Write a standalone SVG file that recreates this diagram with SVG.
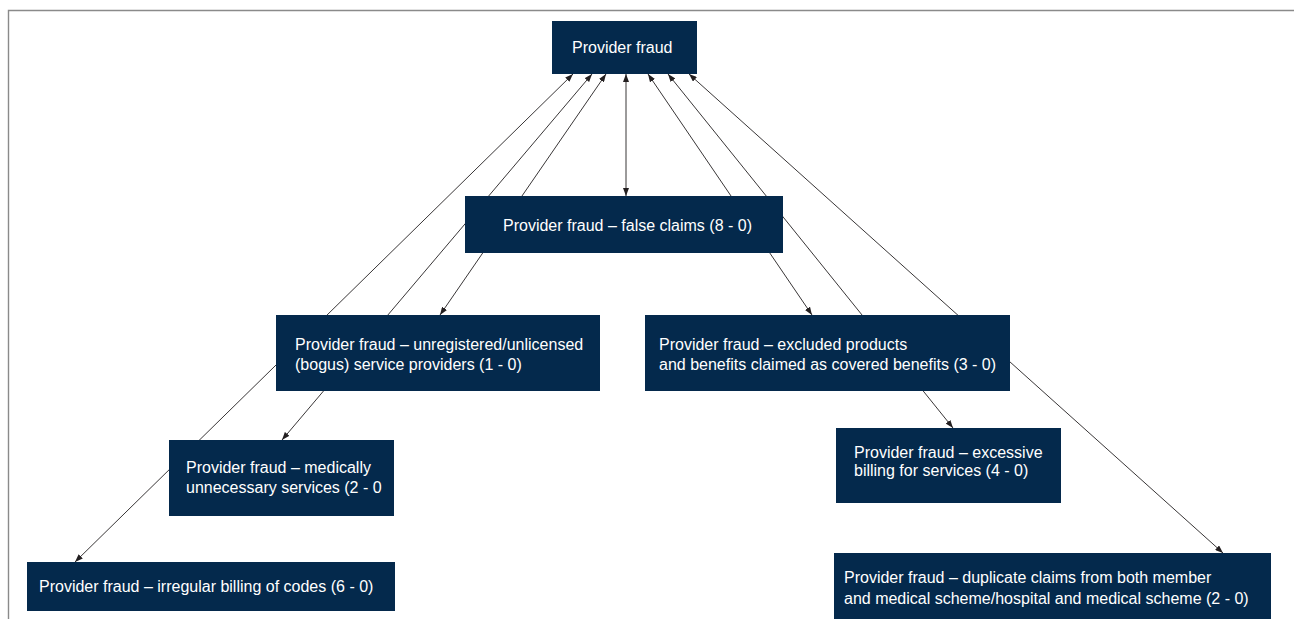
<svg xmlns="http://www.w3.org/2000/svg" width="1294" height="619" viewBox="0 0 1294 619">
  <defs>
    <marker id="arr" viewBox="0 0 8 6" refX="8" refY="3" markerWidth="8" markerHeight="6" markerUnits="userSpaceOnUse" orient="auto-start-reverse">
      <path d="M0,0 L8,3 L0,6 z" fill="#231f20"/>
    </marker>
  </defs>
  <style>
    .frame { fill: none; stroke: #8a8a8a; stroke-width: 1.4; }
    .box { fill: #04294c; }
    .lbl { font-family: "Liberation Sans", Arial, sans-serif; font-size: 16px; fill: #ffffff; }
    .conn line { stroke: #231f20; stroke-width: 0.9; fill: none; marker-start: url(#arr); marker-end: url(#arr); }
  </style>
  <rect width="1294" height="619" fill="#ffffff"/>
  <path class="frame" d="M8.5,619 L8.5,10.5 L1294,10.5"/>

  <g id="connectors" class="conn">
    <line x1="573" y1="74" x2="75" y2="562"/>
    <line x1="592" y1="74" x2="282" y2="440"/>
    <line x1="606" y1="74" x2="440" y2="315"/>
    <line x1="626" y1="74" x2="626" y2="196"/>
    <line x1="648" y1="74" x2="812" y2="315"/>
    <line x1="668" y1="74" x2="953" y2="428"/>
    <line x1="689" y1="74" x2="1223" y2="553"/>
  </g>

  <g id="node-provider-fraud">
    <rect class="box" x="552" y="21" width="145" height="53"/>
    <text class="lbl" x="572" y="52.5">Provider fraud</text>
  </g>
  <g id="node-false-claims">
    <rect class="box" x="465" y="196" width="318" height="57"/>
    <text class="lbl" x="503" y="231">Provider fraud – false claims (8 - 0)</text>
  </g>
  <g id="node-unregistered">
    <rect class="box" x="276" y="315" width="324" height="76"/>
    <text class="lbl" x="295" y="349.5">Provider fraud – unregistered/unlicensed</text>
    <text class="lbl" x="295" y="370">(bogus) service providers (1 - 0)</text>
  </g>
  <g id="node-excluded">
    <rect class="box" x="645" y="315" width="365" height="76"/>
    <text class="lbl" x="659" y="349.5">Provider fraud – excluded products</text>
    <text class="lbl" x="659" y="370">and benefits claimed as covered benefits (3 - 0)</text>
  </g>
  <g id="node-medically">
    <rect class="box" x="169" y="440" width="225" height="76"/>
    <text class="lbl" x="186" y="472.5">Provider fraud – medically</text>
    <text class="lbl" x="186" y="492.5">unnecessary services (2 - 0</text>
  </g>
  <g id="node-excessive">
    <rect class="box" x="836" y="428" width="225" height="75"/>
    <text class="lbl" x="854" y="457.5">Provider fraud – excessive</text>
    <text class="lbl" x="854" y="476">billing for services (4 - 0)</text>
  </g>
  <g id="node-irregular">
    <rect class="box" x="27" y="562" width="368" height="49"/>
    <text class="lbl" x="39" y="592">Provider fraud – irregular billing of codes (6 - 0)</text>
  </g>
  <g id="node-duplicate">
    <rect class="box" x="834" y="553" width="437" height="66"/>
    <text class="lbl" x="844" y="583">Provider fraud – duplicate claims from both member</text>
    <text class="lbl" x="844" y="603.5">and medical scheme/hospital and medical scheme (2 - 0)</text>
  </g>
</svg>
